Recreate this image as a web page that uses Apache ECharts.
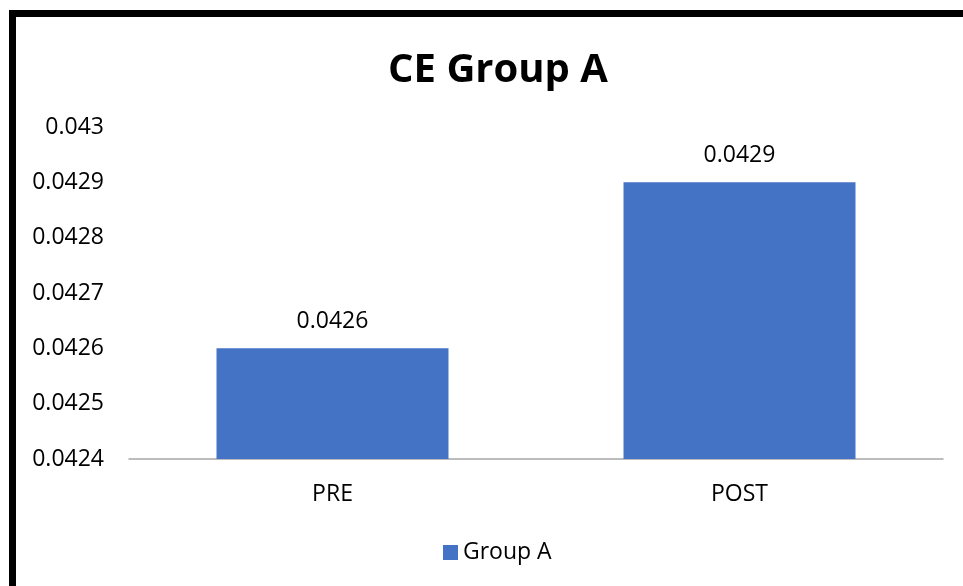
<!DOCTYPE html>
<html>
<head>
<meta charset="utf-8">
<style>
  html, body { margin: 0; padding: 0; background: #fff; }
  #chart { width: 963px; height: 586px; }
</style>
<script src="https://cdn.jsdelivr.net/npm/echarts@6/dist/echarts.min.js"></script>
</head>
<body>
<div id="chart"></div>
<script>
// Chart content
const titleText = 'CE Group A';
const categories = ['PRE', 'POST'];
const seriesName = 'Group A';
const groupAValues = [0.0426, 0.0429];
const yTicks = [0.0424, 0.0425, 0.0426, 0.0427, 0.0428, 0.0429, 0.043];

const FONT = '"Open Sans", "Noto Sans", sans-serif';
const chart = echarts.init(document.getElementById('chart'), null, { renderer: 'canvas' });

chart.setOption({
  backgroundColor: '#ffffff',
  animation: false,
  title: {
    text: titleText,
    left: 493,
    textAlign: 'center',
    top: 46,
    textStyle: { fontFamily: FONT, fontSize: 40, fontWeight: 'bold', color: '#000' }
  },
  legend: {
    data: [seriesName],
    left: 438,
    top: 536,
    itemWidth: 15,
    itemHeight: 15,
    itemGap: 6,
    icon: 'rect',
    textStyle: { fontFamily: FONT, fontSize: 23, color: '#000', padding: [0, 0, 0, 0] }
  },
  grid: { left: 129, right: 20, top: 127, bottom: 127, containLabel: false },
  xAxis: {
    type: 'category',
    data: categories,
    axisLine: { lineStyle: { color: '#a6a6a6', width: 1.5 } },
    axisTick: { show: false },
    axisLabel: { fontFamily: FONT, fontSize: 23, color: '#000', margin: 24 }
  },
  yAxis: {
    type: 'value',
    min: yTicks[0],
    max: yTicks[yTicks.length - 1],
    interval: 0.0001,
    axisLine: { show: false },
    axisTick: { show: false },
    splitLine: { show: false },
    axisLabel: {
      fontFamily: FONT, fontSize: 23, color: '#000', margin: 25,
      formatter: v => {
        const match = yTicks.find(t => Math.abs(t - v) < 1e-9);
        return match !== undefined ? String(match) : '';
      }
    }
  },
  series: [{
    name: seriesName,
    type: 'bar',
    data: groupAValues,
    barCategoryGap: '43%',
    itemStyle: { color: '#4472C4' },
    label: {
      show: true,
      position: 'top',
      distance: 15,
      fontFamily: FONT, fontSize: 23, color: '#000',
      formatter: p => String(p.value)
    }
  }],
  graphic: [
    { type: 'rect', shape: { x: 9, y: 10, width: 954, height: 7 }, style: { fill: '#000' } },
    { type: 'rect', shape: { x: 9, y: 10, width: 7, height: 576 }, style: { fill: '#000' } }
  ]
});
</script>
</body>
</html>
